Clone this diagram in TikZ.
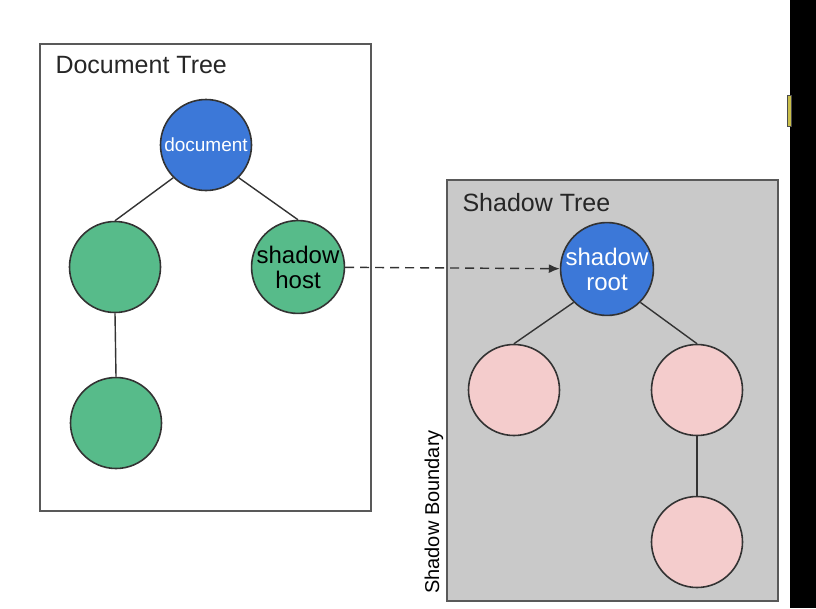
\documentclass[tikz,border=0pt]{standalone}
\usepackage{fontspec}
\setmainfont{Liberation Sans}
\usetikzlibrary{arrows.meta}
\definecolor{docblue}{HTML}{3C78D8}
\definecolor{hostgreen}{HTML}{57BB8A}
\definecolor{lightpink}{HTML}{F4CCCC}
\definecolor{boxgray}{HTML}{C9C9C9}
\definecolor{edgegray}{HTML}{333333}
\definecolor{tabyellow}{HTML}{C9BE4A}
\tikzset{
  treenode/.style={circle, draw=edgegray, line width=1.6pt, minimum size=91pt, inner sep=0pt, align=center, font=\fontsize{24}{25}\selectfont},
  bluenode/.style={treenode, fill=docblue, text=white},
  greennode/.style={treenode, fill=hostgreen, text=black},
  pinknode/.style={treenode, fill=lightpink},
  edge/.style={draw=edgegray, line width=1.4pt},
  title/.style={anchor=west, font=\fontsize{25}{26}\selectfont, text=black!85}
}
\begin{document}
\begin{tikzpicture}[x=1pt,y=-1pt]
  \useasboundingbox (0,0) rectangle (816,608);
  % screen edge
  \fill[black] (790,0) rectangle (816,608);
  \filldraw[fill=tabyellow, draw=black!70] (787,95) rectangle (791,126);
  % boxes
  \draw[black!65, line width=1.6pt] (40,44) rectangle (371,511);
  \filldraw[fill=boxgray, draw=black!65, line width=1.6pt] (447,180) rectangle (778,601);
  \node[title] (doctitle) at (52,65) {Document Tree};
  \node[title] (shadowtitle) at (459,203) {Shadow Tree};
  \node[rotate=90, font=\fontsize{20}{21}\selectfont] (boundary) at (434,512) {Shadow Boundary};
  % document tree
  \node[bluenode, font=\fontsize{19}{20}\selectfont] (doc) at (206,145) {document};
  \node[greennode] (left) at (115,267) {};
  \node[greennode] (host) at (298,267) {shadow\\host};
  \node[greennode] (leftchild) at (116,423) {};
  % shadow tree
  \node[bluenode] (root) at (607,269) {shadow\\root};
  \node[pinknode] (pinkleft) at (514,390) {};
  \node[pinknode] (pinkright) at (697,390) {};
  \node[pinknode] (pinkchild) at (697,542) {};
  \foreach \a/\b in {doc.south west/left.north, doc.south east/host.north, left.south/leftchild.north, root.south west/pinkleft.north, root.south east/pinkright.north, pinkright.south/pinkchild.north}
    \draw[edge] (\a) -- (\b);
  \draw[edge, dash pattern=on 9pt off 6pt, -{Latex[length=11pt,width=9pt]}] (host) -- (root);
\end{tikzpicture}
\end{document}
